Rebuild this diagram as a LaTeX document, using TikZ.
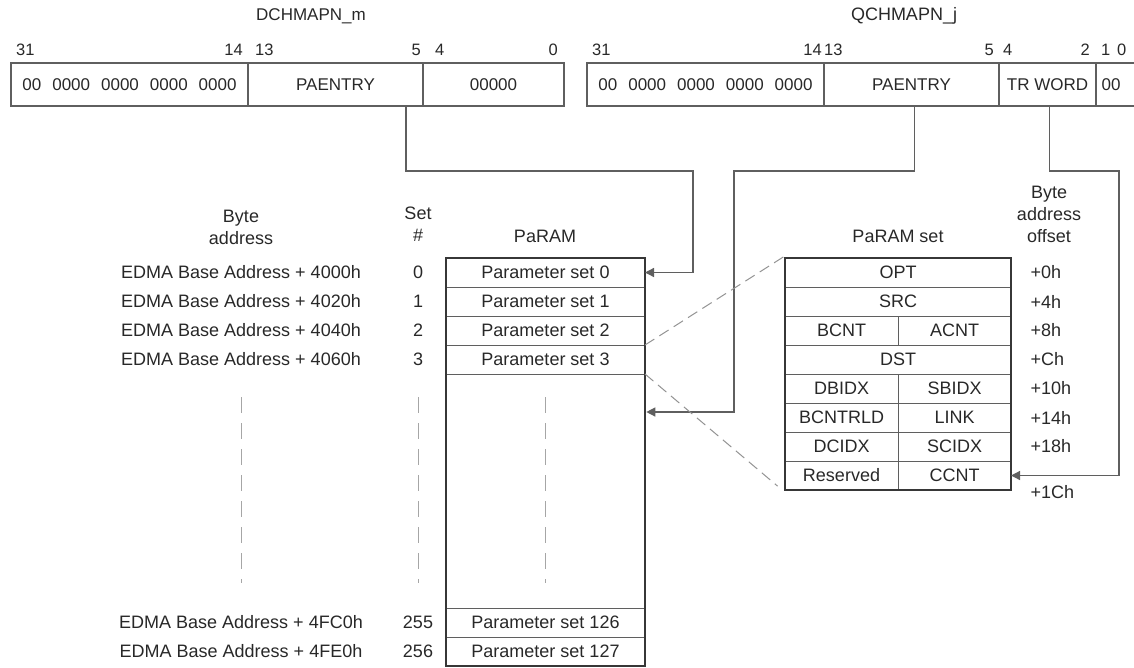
\documentclass[tikz,border=0pt]{standalone}
\usepackage{fontspec}
\setmainfont{Liberation Sans}
\usetikzlibrary{arrows.meta,positioning,calc,fit}
\definecolor{linegray}{RGB}{95,95,95}
\definecolor{framegray}{RGB}{55,55,55}
\definecolor{inkgray}{RGB}{40,40,40}
\newcommand{\fbig}{\fontsize{18}{22}\selectfont}
\newcommand{\freg}{\fontsize{17}{20}\selectfont}
\newcommand{\fsml}{\fontsize{16.5}{20}\selectfont}
\newcommand{\zgap}{\hspace{11pt}}

\begin{document}
\begin{tikzpicture}[x=1pt,y=-1pt,text=inkgray,font=\fbig,
   fld/.style={draw=linegray,line width=1.2pt,minimum height=43pt,inner sep=0pt,outer sep=0pt,font=\freg},
   prow/.style={draw=linegray,line width=1pt,minimum width=199pt,minimum height=29pt,inner sep=0pt,outer sep=0pt},
   pcell/.style={draw=linegray,line width=1pt,minimum width=113pt,minimum height=29pt,inner sep=0pt,outer sep=0pt},
   frame/.style={draw=framegray,line width=2.6pt,inner sep=0pt},
   bit/.style={font=\fsml,inner sep=0pt},
   link/.style={draw=linegray,line width=1.3pt,-{Triangle[length=9pt,width=9pt]}},
   skip/.style={draw=gray!70,line width=1pt,dash pattern=on 16pt off 10pt},
   zoomline/.style={draw=gray!85,line width=1pt,dash pattern=on 11pt off 6pt}]
  \useasboundingbox (0,0) rectangle (1134,667);
  \clip (0,0) rectangle (1134,667);

  % DCHMAPN register
  \node[font=\freg] (dtitle) at (311,16) {DCHMAPN\_m};
  \node[fld,minimum width=237pt,anchor=north west] (d31) at (11,63)
       {00\zgap0000\zgap0000\zgap0000\zgap0000};
  \node[fld,minimum width=175pt,right=0pt of d31] (dpa) {PAENTRY};
  \node[fld,minimum width=141pt,right=0pt of dpa] (dlo) {00000};
  \node[bit,anchor=base west] at ([xshift=5pt,yshift=8pt]d31.north west) {31};
  \node[bit,anchor=base east] at ([xshift=-5pt,yshift=8pt]d31.north east) {14};
  \node[bit,anchor=base west] at ([xshift=7pt,yshift=8pt]dpa.north west) {13};
  \node[bit,anchor=base east] at ([xshift=-2pt,yshift=8pt]dpa.north east) {5};
  \node[bit,anchor=base west] at ([xshift=12pt,yshift=8pt]dlo.north west) {4};
  \node[bit,anchor=base east] at ([xshift=-6pt,yshift=8pt]dlo.north east) {0};

  % QCHMAPN register
  \node[font=\fbig] (qtitle) at (904,16) {QCHMAPN\_j};
  \node[fld,minimum width=237pt,anchor=north west] (q31) at (587,63)
       {00\zgap0000\zgap0000\zgap0000\zgap0000};
  \node[fld,minimum width=175pt,right=0pt of q31] (qpa) {PAENTRY};
  \node[fld,minimum width=97pt,right=0pt of qpa] (qtr) {TR WORD};
  \node[fld,minimum width=44pt,right=0pt of qtr] (qlo) {00\hspace*{14pt}};
  \node[bit,anchor=base west] at ([xshift=5pt,yshift=8pt]q31.north west) {31};
  \node[bit,anchor=base east] at ([xshift=-2pt,yshift=8pt]q31.north east) {14};
  \node[bit,anchor=base west] at ([xshift=0pt,yshift=8pt]qpa.north west) {13};
  \node[bit,anchor=base east] at ([xshift=-5pt,yshift=8pt]qpa.north east) {5};
  \node[bit,anchor=base west] at ([xshift=4pt,yshift=8pt]qtr.north west) {4};
  \node[bit,anchor=base east] at ([xshift=-6pt,yshift=8pt]qtr.north east) {2};
  \node[bit,anchor=base west] at ([xshift=5pt,yshift=8pt]qlo.north west) {1};
  \node[bit,anchor=base west] at ([xshift=21pt,yshift=8pt]qlo.north west) {0};

  % column heads
  \node[align=center] (bytehd) at (241,227) {Byte\\address};
  \node[align=center] (sethd) at (418,224) {Set\\\#};
  \node (paramhd) at (545,236) {PaRAM};

  % PaRAM
  \node[prow,anchor=north west] (p0) at (446,258) {Parameter set 0};
  \node[prow,below=0pt of p0] (p1) {Parameter set 1};
  \node[prow,below=0pt of p1] (p2) {Parameter set 2};
  \node[prow,below=0pt of p2] (p3) {Parameter set 3};
  \node[prow,anchor=south west] (p127) at (446,666) {Parameter set 127};
  \node[prow,above=0pt of p127] (p126) {Parameter set 126};
  \node[frame,fit=(p0)(p127)] (param) {};

  \node (n0) at (p0 -| sethd) {0};
  \node (n1) at (p1 -| sethd) {1};
  \node (n2) at (p2 -| sethd) {2};
  \node (n3) at (p3 -| sethd) {3};
  \node (n126) at (p126 -| sethd) {255};
  \node (n127) at (p127 -| sethd) {256};
  \node (a0) at (p0 -| bytehd) {EDMA Base Address + 4000h};
  \node (a1) at (p1 -| bytehd) {EDMA Base Address + 4020h};
  \node (a2) at (p2 -| bytehd) {EDMA Base Address + 4040h};
  \node (a3) at (p3 -| bytehd) {EDMA Base Address + 4060h};
  \node (a126) at (p126 -| bytehd) {EDMA Base Address + 4FC0h};
  \node (a127) at (p127 -| bytehd) {EDMA Base Address + 4FE0h};

  \foreach \x in {241,418,545}
    \draw[skip] (\x,397) -- (\x,583);

  % PaRAM set
  \node (psethd) at (898,236) {PaRAM set};
  \node[prow,minimum width=226pt,anchor=north west] (s1) at (785,258) {OPT};
  \node[prow,minimum width=226pt,below=0pt of s1] (s2) {SRC};
  \node[pcell,anchor=north west] (s3a) at (s2.south west) {BCNT};
  \node[pcell,right=0pt of s3a] (s3b) {ACNT};
  \node[prow,minimum width=226pt,anchor=north west] (s4) at (s3a.south west) {DST};
  \node[pcell,anchor=north west] (s5a) at (s4.south west) {DBIDX};
  \node[pcell,right=0pt of s5a] (s5b) {SBIDX};
  \node[pcell,below=0pt of s5a] (s6a) {BCNTRLD};
  \node[pcell,right=0pt of s6a] (s6b) {LINK};
  \node[pcell,below=0pt of s6a] (s7a) {DCIDX};
  \node[pcell,right=0pt of s7a] (s7b) {SCIDX};
  \node[pcell,below=0pt of s7a] (s8a) {Reserved};
  \node[pcell,right=0pt of s8a] (s8b) {CCNT};
  \node[frame,fit=(s1)(s8b)] (pset) {};

  \node[align=center] (offhd) at (1049,214) {Byte\\address\\offset};
  \node[anchor=west] (o1) at ([xshift=16pt]s1.east) {+0h};
  \node[anchor=west] (o2) at ([xshift=16pt]s2.east) {+4h};
  \node[anchor=west] (o3) at ([xshift=16pt]s3b.east) {+8h};
  \node[anchor=west] (o4) at ([xshift=16pt]s4.east) {+Ch};
  \node[anchor=west] (o5) at ([xshift=16pt]s5b.east) {+10h};
  \node[anchor=west] (o6) at ([xshift=16pt]s6b.east) {+14h};
  \node[anchor=west] (o7) at ([xshift=16pt]s7b.east) {+18h};
  \node[anchor=west] (o8) at ([xshift=16pt,yshift=-17pt]s8b.east) {+1Ch};

  % connectors
  \coordinate (qbend) at (734,412);
  \draw[link] ([xshift=-17pt]dpa.south east) -- ++(0,65) -| ([xshift=48pt]p0.east) -- (p0.east);
  \draw[link] ([xshift=3pt]qpa.south) -- ++(0,65) -| (qbend) -- (param.east |- qbend);
  \draw[link] ([xshift=2pt]qtr.south) -- ++(0,65) -| ([xshift=108pt]s8b.east) -- (s8b.east);
  \draw[zoomline] (p2.south east) -- (pset.north west);
  \draw[zoomline,shorten >=8pt] (p3.south east) -- (pset.south west);
\end{tikzpicture}
\end{document}
